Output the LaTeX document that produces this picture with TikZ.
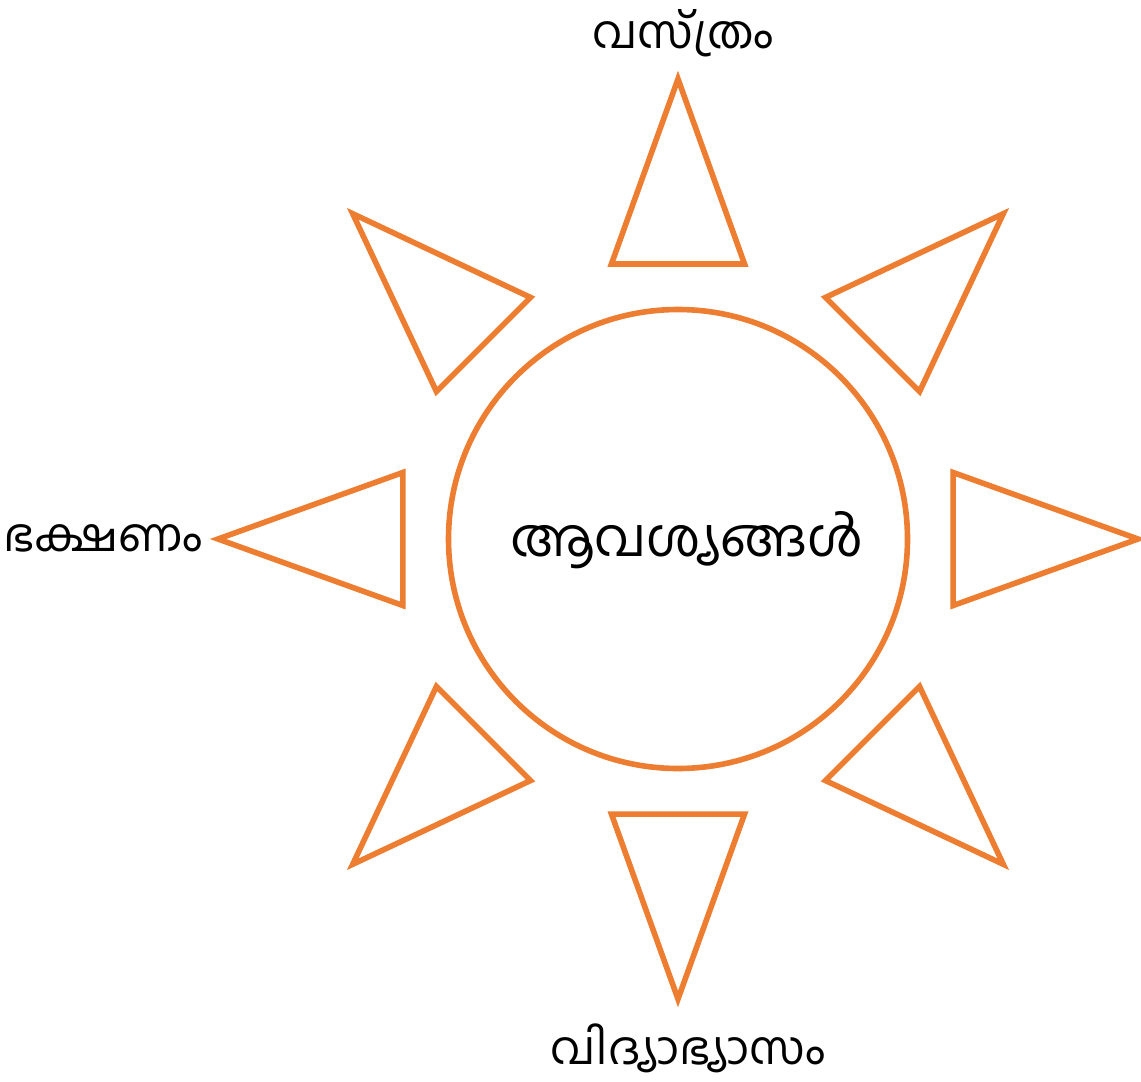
\documentclass[tikz,border=0pt]{standalone}
\usepackage{fontspec}
\newfontfamily\mlfont[Script=Malayalam]{Hind Kochi}
\definecolor{sunorange}{HTML}{ED7D31}
\begin{document}
\begin{tikzpicture}[x=0.5pt,y=-0.5pt,
  ray/.style={draw=sunorange,line width=2.8pt,line join=miter},
  lbl/.style={font=\mlfont\fontsize{23}{27}\selectfont,inner sep=0pt},
  ctr/.style={font=\mlfont\fontsize{26.5}{31}\selectfont,inner sep=0pt}]
\useasboundingbox (0,0) rectangle (1141,1082);
\coordinate (c) at (678,539);
\node[ray,circle,minimum size=229.5pt,inner sep=0pt] (hub) at (c) {};
\foreach \a in {0,45,...,315}{
  \draw[ray] ([shift={(\a:460)}]c) -- ([shift={(\a+13.6:283)}]c) -- ([shift={(\a-13.6:283)}]c) -- cycle;
}
\node[ctr] (center) at (687,540) {ആവശ്യങ്ങൾ};
\node[lbl] (top) at (683,33) {വസ്ത്രം};
\node[lbl] (left) at (103,538) {ഭക്ഷണം};
\node[lbl] (bottom) at (688,1048) {വിദ്യാഭ്യാസം};
\end{tikzpicture}
\end{document}
